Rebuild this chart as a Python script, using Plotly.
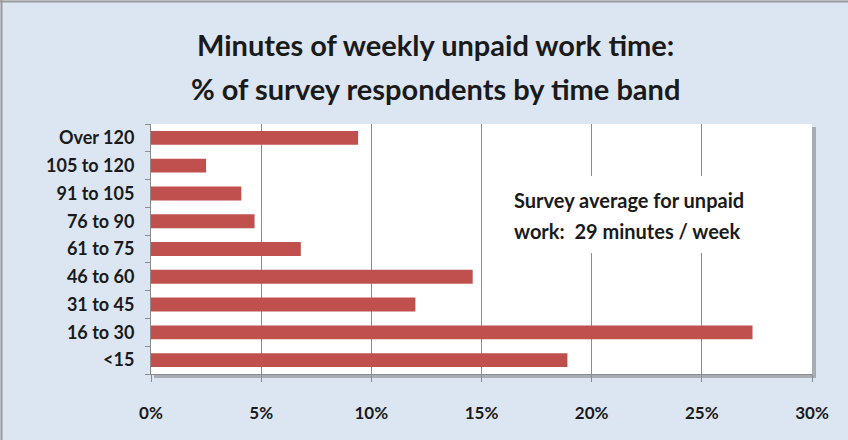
import plotly.graph_objects as go

categories = ["<15", "16 to 30", "31 to 45", "46 to 60", "61 to 75",
              "76 to 90", "91 to 105", "105 to 120", "Over 120"]
percent = [18.9, 27.3, 12.0, 14.6, 6.8, 4.7, 4.1, 2.5, 9.4]
x_ticks = [0, 5, 10, 15, 20, 25, 30]
x_tick_labels = ["0%", "5%", "10%", "15%", "20%", "25%", "30%"]
title_lines = ["Minutes of weekly unpaid work time:",
               "% of survey respondents by time band"]
note_lines = ["Survey average for unpaid", "work:  29 minutes / week"]

W, H = 848, 440
L, R, T, B = 151, 36, 124, 66
PW, PH = W - L - R, H - T - B


def fx(px):
    """figure pixel x -> paper coordinate"""
    return (px - L) / PW


def fy(py):
    """figure pixel y (from top) -> paper coordinate"""
    return (H - B - py) / PH


FONT = "Lato"
TXT = "#1a1a1a"

fig = go.Figure(go.Bar(
    x=percent, y=categories, orientation="h",
    marker=dict(color="#c0504d", line=dict(width=0)),
    width=0.5,
))

shapes = [
    # outer border (top and left visible)
    dict(type="line", xref="paper", yref="paper",
         x0=fx(0), x1=fx(W), y0=fy(1.5), y1=fy(1.5),
         line=dict(color="#9a9a9a", width=2), layer="below"),
    dict(type="line", xref="paper", yref="paper",
         x0=fx(1.5), x1=fx(1.5), y0=fy(0), y1=fy(H),
         line=dict(color="#9a9a9a", width=2), layer="below"),
    # shadow
    dict(type="rect", xref="paper", yref="paper",
         x0=fx(L + 3), x1=fx(W - R + 4), y0=fy(H - B + 4), y1=fy(T + 3),
         line=dict(width=0), fillcolor="#a8adb3", layer="below"),
    # plot area
    dict(type="rect", xref="paper", yref="paper",
         x0=0, x1=1, y0=0, y1=1,
         line=dict(width=0), fillcolor="white", layer="below"),
    # white box behind the note
    dict(type="rect", xref="paper", yref="paper",
         x0=fx(505), x1=fx(752), y0=fy(253), y1=fy(176),
         line=dict(width=0), fillcolor="white", layer="above"),
]

annotations = []
for txt, yc in zip(title_lines, [45, 88]):
    annotations.append(dict(
        text=txt, xref="paper", yref="paper", x=fx(435), y=fy(yc),
        xanchor="center", yanchor="middle", showarrow=False,
        font=dict(family=FONT, size=29, color=TXT, weight="bold"),
    ))
for txt, yc in zip(note_lines, [200, 231]):
    annotations.append(dict(
        text=txt, xref="paper", yref="paper", x=fx(512), y=fy(yc),
        xanchor="left", yanchor="middle", showarrow=False,
        font=dict(family=FONT, size=20, color=TXT, weight="bold"),
    ))

fig.update_layout(
    width=W, height=H,
    margin=dict(l=L, r=R, t=T, b=B),
    paper_bgcolor="#dce6f2",
    plot_bgcolor="rgba(0,0,0,0)",
    showlegend=False,
    bargap=0.5,
    font=dict(family=FONT, color=TXT),
    shapes=shapes,
    annotations=annotations,
)

fig.update_xaxes(
    range=[0, 30], tickvals=x_ticks, ticktext=x_tick_labels,
    showgrid=True, gridcolor="#8c8c8c", gridwidth=1,
    showline=True, linecolor="#8c8c8c", linewidth=1,
    ticks="outside", ticklen=7, tickcolor="#8c8c8c",
    tickfont=dict(family=FONT, size=17, color=TXT, weight="bold"),
    ticklabelstandoff=17, zeroline=False, fixedrange=True,
)
fig.update_yaxes(
    categoryorder="array", categoryarray=categories,
    showgrid=False, showline=True, linecolor="#8c8c8c", linewidth=1,
    ticks="outside", ticklen=5, tickcolor="#8c8c8c", tickson="boundaries",
    tickfont=dict(family=FONT, size=18, color=TXT, weight="bold"),
    ticklabelstandoff=12, fixedrange=True,
)

fig.write_html("out.html", config={"displayModeBar": False},
               post_script="document.body.style.margin='0';")
